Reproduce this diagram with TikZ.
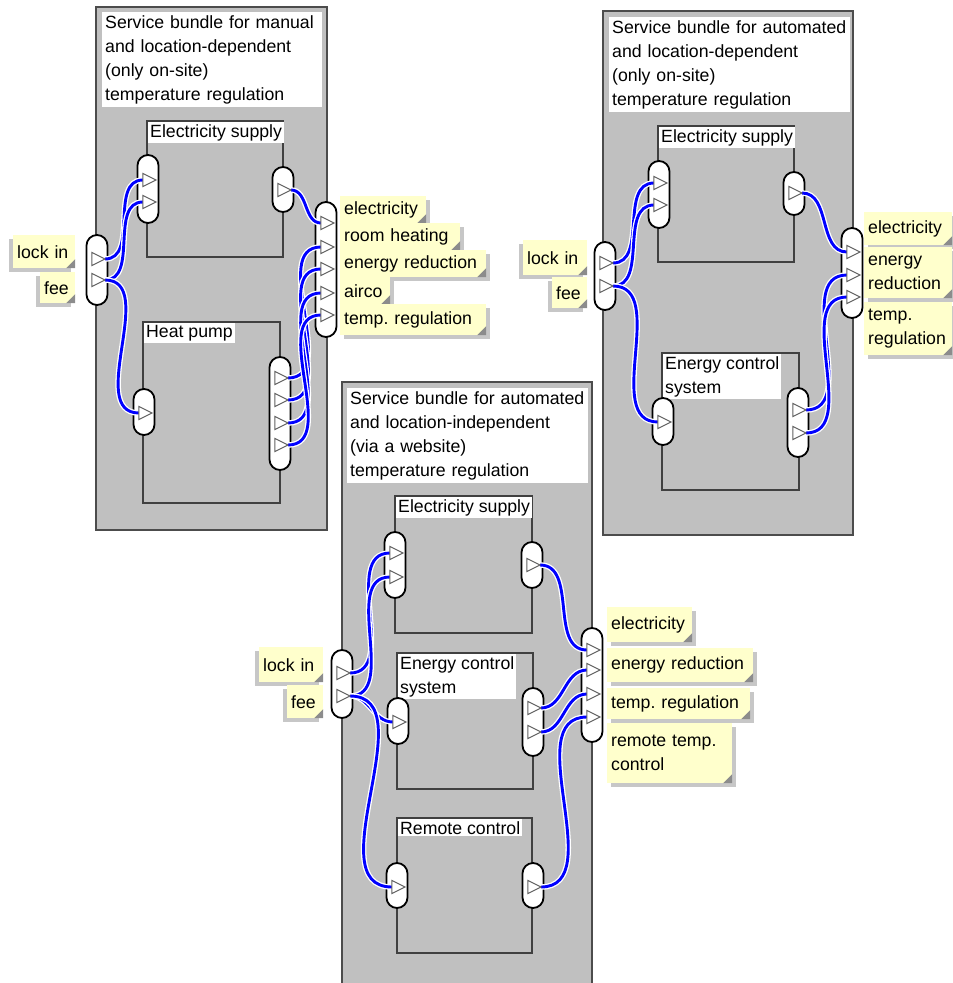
\documentclass[tikz,border=0pt]{standalone}
\usepackage{fontspec}
\setmainfont{Liberation Sans}
\usetikzlibrary{shapes.geometric,shadows}
\pgfdeclarelayer{back}
\pgfdeclarelayer{links}
\pgfsetlayers{back,links,main}
\definecolor{notefill}{HTML}{FFFFCC}
\definecolor{boxgray}{HTML}{C0C0C0}
\frenchspacing

\begin{document}
\begin{tikzpicture}[x=1pt, y=-1pt,
  font=\fontsize{17.7}{24}\selectfont,
  bundle/.style={draw=black!70, line width=2.5pt, fill=boxgray, anchor=north west, inner sep=0, outer sep=0},
  actor/.style={draw=black!75, line width=1.5pt, anchor=north west, inner sep=0, outer sep=0},
  title/.style={fill=white, anchor=north west, align=left, inner sep=3pt, text width=#1},
  tag/.style={fill=white, anchor=north west, align=left, inner sep=2pt, xshift=1pt, yshift=-1pt},
  iface/.style={draw=black, line width=1.8pt, fill=white, rounded corners=10.5pt, minimum width=21, minimum height=#1, inner sep=0},
  vport/.style={isosceles triangle, isosceles triangle stretches, draw=black!62, line width=1pt, fill=white, minimum width=13, minimum height=13, inner sep=0, outer sep=0},
  note/.style={fill=notefill, anchor=north west, align=left, inner xsep=4pt, inner ysep=2pt, text width=#1,
    path picture={\fill[black!45] (path picture bounding box.south east) -- ++(-9pt,0pt) -- ++(9pt,9pt) -- cycle;}},
  lnote/.style={note=#1, drop shadow={shadow xshift=-4pt, shadow yshift=-4pt, fill=black!22, opacity=1}},
  rnote/.style={note=#1, drop shadow={shadow xshift=4pt, shadow yshift=-4pt, fill=black!22, opacity=1}},
  flow/.style={draw=white, double=blue, double distance=2.9pt, line width=1.3pt}]

  \useasboundingbox (0,0) rectangle (953,983);

  \begin{pgfonlayer}{back}
  % manual, on-site
  \node (b1) [bundle, minimum width=231, minimum height=523] at (96,7) {};
  \node (b1t) [title=214pt] at (102,12) {Service bundle for manual\\and location-dependent\\(only on-site)\\temperature regulation};
  \node (es1) [actor, minimum width=136, minimum height=136] at (147,121) {};
  \node (es1t) [tag] at (es1.north west) {Electricity supply};
  \node (hp1) [actor, minimum width=137, minimum height=181] at (143,322) {};
  \node (hp1t) [tag] at (hp1.north west) {Heat pump};
  \node (b1l) [iface=70] at (97,270) {};
  \node (b1r) [iface=135] at (326,269.5) {};
  \node (es1l) [iface=68] at (148,189) {};
  \node (es1r) [iface=45] at (283,189.5) {};
  \node (hp1l) [iface=46] at (144,412) {};
  \node (hp1r) [iface=113] at (280,413.5) {};
  \node (n1a) [lnote=54pt, minimum height=33] at (13,235) {lock in};
  \node (n1b) [lnote=27pt, minimum height=31] at (40,272) {fee};
  \node (n1c) [rnote=78pt, minimum height=27] at (340,196) {electricity};
  \node (n1d) [rnote=112pt, minimum height=27] at (340,223) {room heating};
  \node (n1e) [rnote=138pt, minimum height=27] at (340,250) {energy reduction};
  \node (n1f) [rnote=42pt, minimum height=27] at (340,277) {airco};
  \node (n1g) [rnote=138pt, minimum height=31] at (340,304) {temp. regulation};

  % automated, on-site
  \node (b2) [bundle, minimum width=250, minimum height=524] at (603,11) {};
  \node (b2t) [title=235pt] at (609,17) {Service bundle for automated\\and location-dependent\\(only on-site)\\temperature regulation};
  \node (es2) [actor, minimum width=136, minimum height=136] at (658,126) {};
  \node (es2t) [tag] at (es2.north west) {Electricity supply};
  \node (ecs2) [actor, minimum width=137, minimum height=137] at (662,353) {};
  \node (ecs2t) [tag] at (ecs2.north west) {Energy control\\system};
  \node (b2l) [iface=68] at (605,276) {};
  \node (b2r) [iface=90] at (852,273) {};
  \node (es2l) [iface=67] at (659,194.5) {};
  \node (es2r) [iface=43] at (794,193.5) {};
  \node (ecs2l) [iface=47] at (663,421.5) {};
  \node (ecs2r) [iface=69] at (798,422.5) {};
  \node (n2a) [lnote=56pt, minimum height=35] at (523,240) {lock in};
  \node (n2b) [lnote=27pt, minimum height=31] at (552,277) {fee};
  \node (n2c) [rnote=80pt, minimum height=33] at (864,212) {electricity};
  \node (n2d) [rnote=80pt, minimum height=51] at (864,247) {energy\\reduction};
  \node (n2e) [rnote=80pt, minimum height=53] at (864,302) {temp.\\regulation};

  % automated, via a website
  \node (b3) [bundle, minimum width=250, minimum height=620] at (342,382) {};
  \node (b3t) [title=235pt] at (347,388) {Service bundle for automated\\and location-independent\\(via a website)\\temperature regulation};
  \node (es3) [actor, minimum width=137, minimum height=137] at (395,496) {};
  \node (es3t) [tag] at (es3.north west) {Electricity supply};
  \node (ecs3) [actor, minimum width=136, minimum height=136] at (397,653) {};
  \node (ecs3t) [tag] at (ecs3.north west) {Energy control\\system};
  \node (rc3) [actor, minimum width=135, minimum height=135] at (397,818) {};
  \node (rc3t) [tag] at (rc3.north west) {Remote control};
  \node (b3l) [iface=68] at (342,684) {};
  \node (b3r) [iface=114] at (592,685) {};
  \node (es3l) [iface=66] at (395,565) {};
  \node (es3r) [iface=46] at (532,565) {};
  \node (ecs3l) [iface=46] at (398,721) {};
  \node (ecs3r) [iface=68] at (533,722) {};
  \node (rc3l) [iface=45] at (397,885.5) {};
  \node (rc3r) [iface=45] at (533,885.5) {};
  \node (n3a) [lnote=56pt, minimum height=35] at (259,647) {lock in};
  \node (n3b) [lnote=28pt, minimum height=33] at (287,685) {fee};
  \node (n3c) [rnote=77pt, minimum height=35] at (607,607) {electricity};
  \node (n3d) [rnote=138pt, minimum height=34] at (607,648) {energy reduction};
  \node (n3e) [rnote=135pt, minimum height=31] at (607,688) {temp. regulation};
  \node (n3f) [rnote=117pt, minimum height=60] at (607,723) {remote temp.\\control};
  \end{pgfonlayer}

  \foreach \n/\x/\y in {b1l1/96/259, b1l2/96/280, es1l1/147/180, es1l2/147/202, es1r1/282/190,
      b1r1/325/223, b1r2/325/247, b1r3/325/269, b1r4/325/293, b1r5/325/315,
      hp1l1/143/413, hp1r1/279/378, hp1r2/279/400, hp1r3/279/423, hp1r4/279/445,
      b2l1/604/263, b2l2/604/286, es2l1/658/183, es2l2/658/205, es2r1/793/193,
      b2r1/851/252, b2r2/851/275, b2r3/851/297, ecs2l1/662/422, ecs2r1/797/410, ecs2r2/797/433,
      b3l1/341/673, b3l2/341/696, es3l1/394/553, es3l2/394/577, es3r1/531/565,
      ecs3l1/397/722, ecs3r1/532/708, ecs3r2/532/732,
      b3r1/591/650, b3r2/591/670, b3r3/591/694, b3r4/591/717, rc3l1/396/887, rc3r1/532/887}
    \node (\n) [vport] at (\x,\y) {};

  \begin{pgfonlayer}{links}
  \foreach \a/\b in {b1l1/es1l1, b1l2/es1l2, b1l2/hp1l1, es1r1/b1r1,
      hp1r1/b1r2, hp1r2/b1r3, hp1r3/b1r4, hp1r4/b1r5,
      b2l1/es2l1, b2l2/es2l2, b2l2/ecs2l1, es2r1/b2r1, ecs2r1/b2r2, ecs2r2/b2r3,
      b3l1/es3l1, b3l2/es3l2, b3l2/ecs3l1, b3l2/rc3l1,
      es3r1/b3r1, ecs3r1/b3r2, ecs3r2/b3r3, rc3r1/b3r4}
    \draw[flow] (\a.east) to[out=0, in=180] (\b.west);
  \end{pgfonlayer}
\end{tikzpicture}
\end{document}
